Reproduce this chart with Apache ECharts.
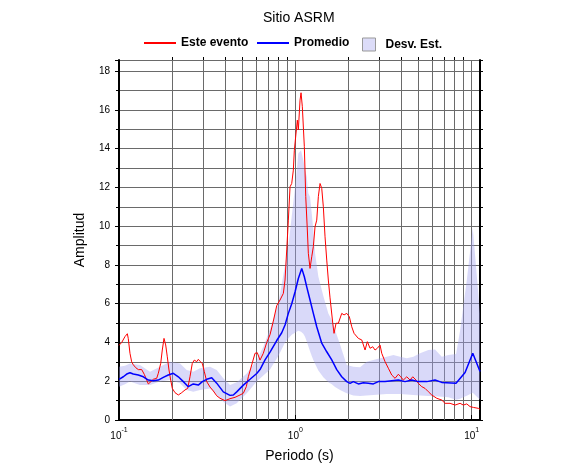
<!DOCTYPE html>
<html><head><meta charset="utf-8">
<script src="https://cdn.jsdelivr.net/npm/echarts@6/dist/echarts.min.js"></script>
<style>html,body{margin:0;padding:0;background:#fff}#c{width:586px;height:475px}</style>
</head><body><div id="c"></div>
<script>
const chartTitle = 'Sitio ASRM';
const legendNames = ['Este evento', 'Promedio', 'Desv. Est.'];
const xName = 'Periodo (s)';
const yName = 'Amplitud';
const xMin = 0.1, xMax = 11.15, yMin = 0, yMax = 18.57;
const minorPeriods = [0.2,0.3,0.4,0.5,0.6,0.7,0.8,0.9,2,3,4,5,6,7,8,9];

const redPeriod = [0.1,0.1013,0.1036,0.1058,0.1081,0.1115,0.1129,0.1154,0.118,0.1205,0.1244,0.1287,0.1315,0.1345,0.1392,0.1436,0.1466,0.1518,0.1565,0.1636,0.1671,0.1724,0.176,0.18,0.184,0.1879,0.1921,0.1964,0.2006,0.2078,0.217,0.2268,0.2368,0.2453,0.2527,0.2604,0.2673,0.2759,0.2817,0.2892,0.2969,0.3048,0.3145,0.3282,0.3426,0.3582,0.374,0.3992,0.4262,0.455,0.4857,0.5071,0.5274,0.5414,0.5657,0.5906,0.6087,0.6306,0.6583,0.6883,0.7186,0.7503,0.7844,0.8189,0.855,0.8742,0.8938,0.9128,0.9333,0.9541,0.9742,0.987,1.0052,1.0265,1.04,1.0633,1.0773,1.0958,1.1248,1.1455,1.1697,1.1851,1.2117,1.2389,1.2651,1.2935,1.3225,1.3505,1.3808,1.4118,1.4416,1.474,1.5071,1.5389,1.5734,1.6299,1.6578,1.7017,1.7536,1.8332,1.8891,1.9569,2.0244,2.0889,2.1527,2.2096,2.277,2.3803,2.4853,2.5611,2.653,2.7482,2.8318,2.9183,3.0229,3.0908,3.2268,3.369,3.522,3.6771,3.8391,3.9614,4.0983,4.2845,4.4734,4.6338,4.8375,4.985,5.2117,5.4411,5.6808,5.9388,6.3394,6.7665,7.0646,7.5413,8.05,8.593,8.972,9.38,9.7935,10.225,10.914,11.15];
const redAmp = [3.85,3.75,4.0,3.95,4.3,4.45,4.2,3.44,3.0,2.85,2.7,2.6,2.5,2.6,2.35,2.06,1.86,1.98,2.1,2.15,2.41,2.92,3.61,4.21,3.87,3.26,2.58,2.06,1.63,1.41,1.29,1.41,1.55,1.63,2.23,2.92,3.09,3.01,3.13,3.01,2.92,2.49,1.98,1.7,1.5,1.25,1.12,1.0,1.1,1.17,1.29,1.38,1.72,2.23,2.84,3.44,3.47,3.09,3.44,4.0,4.4,5.1,5.9,6.19,6.53,7.22,8.77,10.31,12.03,12.2,12.89,13.92,13.92,15.47,14.96,16.5,16.88,16.16,14.1,11.52,9.8,8.6,7.82,8.42,8.94,9.97,10.31,11.52,12.2,11.95,11.0,9.45,8.25,7.22,6.3,5.0,4.47,4.99,4.99,5.5,5.42,5.5,5.33,4.81,4.47,4.38,4.21,4.13,3.61,4.04,3.7,3.78,3.61,3.7,3.87,3.44,3.01,2.67,2.32,2.15,2.36,2.23,2.06,2.23,2.06,2.23,2.06,1.89,1.72,1.63,1.46,1.29,1.12,1.03,0.86,0.86,0.77,0.86,0.77,0.83,0.69,0.65,0.6,0.55];

const bluePeriod = [0.1,0.1058,0.1106,0.1154,0.1205,0.1287,0.1374,0.1466,0.1565,0.1671,0.1783,0.1904,0.2032,0.217,0.2316,0.2472,0.2638,0.2817,0.2969,0.3145,0.3356,0.3582,0.3904,0.4262,0.445,0.4652,0.5071,0.5535,0.6039,0.6306,0.6732,0.7186,0.7844,0.8373,0.8742,0.9128,0.9541,0.9961,1.04,1.0872,1.1248,1.1605,1.2117,1.2651,1.3225,1.4118,1.5071,1.6088,1.7173,1.8332,1.9569,2.0431,2.1331,2.277,2.43,2.5946,2.7699,2.9567,3.2268,3.522,3.8391,4.1903,4.5736,4.985,5.5634,6.2003,6.7665,8.156,9.174,10.145,11.15];
const blueAmp = [2.1,2.23,2.37,2.44,2.37,2.32,2.23,2.06,2.03,2.06,2.2,2.32,2.41,2.23,1.98,1.72,1.86,1.8,1.98,2.1,2.18,1.9,1.45,1.27,1.29,1.45,1.8,2.1,2.4,2.6,3.1,3.5,4.1,4.5,4.9,5.5,6.0,6.6,7.3,7.82,7.39,6.87,6.19,5.5,4.81,3.96,3.52,3.1,2.6,2.23,1.98,1.89,1.98,1.86,1.92,1.89,1.86,1.98,1.98,2.03,2.06,1.98,2.06,1.98,1.98,2.06,1.94,1.9,2.45,3.44,2.5];

const bandPeriod = [0.1,0.1081,0.1154,0.1315,0.1499,0.1708,0.1946,0.2218,0.2421,0.2638,0.288,0.3282,0.3582,0.3904,0.4262,0.4652,0.5302,0.6039,0.6583,0.7186,0.8009,0.8742,0.9128,0.9541,0.9961,1.04,1.0773,1.11,1.135,1.1605,1.1851,1.2117,1.2389,1.2651,1.2935,1.3505,1.4416,1.5389,1.6088,1.68,1.793,1.9569,2.1331,2.328,2.541,2.77,3.023,3.299,3.596,3.925,4.285,4.671,5.097,5.681,6.2,6.767,7.377,8.156,8.593,9.38,10.145,11.15];
const bandLow = [1.72,1.85,1.98,1.8,1.8,1.98,2.06,1.89,1.55,1.46,1.55,1.63,1.29,0.94,0.69,0.86,1.38,1.98,2.3,2.6,3.3,4.0,4.2,4.4,4.5,4.6,4.55,4.45,4.3,4.05,3.8,3.55,3.3,3.1,2.9,2.55,2.2,1.95,1.85,1.7,1.55,1.38,1.27,1.24,1.26,1.29,1.31,1.34,1.34,1.34,1.31,1.29,1.27,1.24,1.22,1.2,1.17,1.05,1.1,1.25,1.4,1.05];
const bandHigh = [2.75,2.8,2.92,2.84,2.49,2.75,3.01,2.92,2.58,2.49,2.67,2.75,2.58,2.15,1.8,1.95,2.4,3.09,3.78,4.7,6.0,8.0,9.0,10.5,12.0,13.75,13.92,13.4,12.9,12.55,11.7,11.5,10.66,9.8,8.6,7.4,6.4,5.5,5.16,4.64,3.9,2.84,2.75,2.72,3.01,3.09,3.18,3.26,3.35,3.26,3.18,3.26,3.44,3.61,3.64,3.26,3.35,3.4,4.6,7.2,9.9,5.5];

const FONT = "'Liberation Sans', Arial, Helvetica, sans-serif";
const GRID_COLOR = '#6a6a6a';
const BAND_FILL = 'rgba(160,160,240,0.4)';

const chart = echarts.init(document.getElementById('c'), null, {renderer: 'canvas'});

function crisp(v) { return Math.round(v - 0.5) + 0.5; }

const legendText = {fontFamily: FONT, fontSize: 12, fontWeight: 'bold', color: '#000'};

const option = {
  animation: false,
  backgroundColor: '#fff',
  title: {
    text: chartTitle, left: 263, top: 11, padding: 0,
    textStyle: {fontFamily: FONT, fontSize: 14, fontWeight: 'normal', color: '#000'}
  },
  legend: [
    {data: [legendNames[0]], left: 143, top: 37, padding: 0, itemWidth: 32, itemHeight: 14, itemGap: 0,
     itemStyle: {opacity: 0}, textStyle: legendText},
    {data: [legendNames[1]], left: 256, top: 37, padding: 0, itemWidth: 32, itemHeight: 14, itemGap: 0,
     itemStyle: {opacity: 0}, textStyle: legendText},
    {data: [{name: legendNames[2], icon: 'rect', itemStyle: {color: '#dcdcf8', borderColor: '#999', borderWidth: 1}}],
     left: 362, top: 37.5, padding: 0, itemWidth: 13, itemHeight: 13, itemGap: 0,
     textStyle: Object.assign({}, legendText, {padding: [0, 0, 0, 5]})}
  ],
  grid: {left: 119, right: 106, top: 60, bottom: 55, containLabel: false},
  xAxis: [
    {
      type: 'log', logBase: 10, min: xMin, max: xMax, position: 'bottom',
      name: xName, nameLocation: 'middle', nameGap: 29,
      nameTextStyle: {fontFamily: FONT, fontSize: 14, color: '#000'},
      axisLine: {show: true, lineStyle: {color: '#000', width: 2}},
      axisTick: {show: false},
      splitLine: {show: true, lineStyle: {color: GRID_COLOR, width: 1}},
      axisLabel: {
        margin: 7, showMaxLabel: false, color: '#000',
        formatter: function (v) {
          const l = Math.log10(v); const e = Math.round(l);
          if (Math.abs(l - e) > 0.01) return '';
          return '{b|10}{s|' + e + '}';
        },
        rich: {
          b: {fontFamily: FONT, fontSize: 10, color: '#000', verticalAlign: 'bottom', lineHeight: 14},
          s: {fontFamily: FONT, fontSize: 7, color: '#000', verticalAlign: 'top', lineHeight: 14}
        }
      }
    },
    {
      type: 'log', logBase: 10, min: xMin, max: xMax, position: 'top',
      axisLine: {show: true, lineStyle: {color: '#000', width: 2}},
      axisTick: {show: true, inside: false, length: 5, lineStyle: {color: '#000', width: 1}},
      axisLabel: {show: false}, splitLine: {show: false}
    }
  ],
  yAxis: [
    {
      type: 'value', min: yMin, max: yMax, interval: 2, position: 'left',
      name: yName, nameLocation: 'middle', nameGap: 32, nameRotate: 90,
      nameTextStyle: {fontFamily: FONT, fontSize: 14, color: '#000'},
      axisLine: {show: true, lineStyle: {color: '#000', width: 2}},
      axisTick: {show: true, inside: false, length: 4, lineStyle: {color: '#000', width: 1}},
      minorTick: {show: true, splitNumber: 2, length: 3, lineStyle: {color: '#000', width: 1}},
      splitLine: {show: true, lineStyle: {color: GRID_COLOR, width: 1}},
      minorSplitLine: {show: true, lineStyle: {color: GRID_COLOR, width: 1}},
      axisLabel: {margin: 9, showMaxLabel: false, color: '#000', fontFamily: FONT, fontSize: 10}
    },
    {
      type: 'value', min: yMin, max: yMax, interval: 1, position: 'right',
      axisLine: {show: true, lineStyle: {color: '#000', width: 2}},
      axisTick: {show: true, inside: false, length: 3, lineStyle: {color: '#000', width: 1}},
      axisLabel: {show: false}, splitLine: {show: false}
    }
  ],
  series: [
    {
      type: 'custom', name: 'minorGrid', silent: true, xAxisIndex: 0, yAxisIndex: 0,
      data: minorPeriods.map(p => [p, yMin]),
      encode: {x: 0, y: 1},
      renderItem: function (params, api) {
        const p = api.value(0);
        const a = api.coord([p, yMin]);
        const b = api.coord([p, yMax]);
        const x = crisp(a[0]);
        return {type: 'group', children: [
          {type: 'line', shape: {x1: x, y1: a[1], x2: x, y2: b[1]}, style: {stroke: GRID_COLOR, lineWidth: 1}},
          {type: 'line', shape: {x1: x, y1: b[1], x2: x, y2: b[1] - 3}, style: {stroke: '#000', lineWidth: 1}}
        ]};
      }
    },
    {
      type: 'custom', name: legendNames[2], silent: true, xAxisIndex: 0, yAxisIndex: 0,
      itemStyle: {color: '#dcdcf8', borderColor: '#999'},
      data: bandPeriod.map((p, i) => [p, bandLow[i], bandHigh[i]]),
      encode: {x: 0, y: [1, 2]},
      renderItem: function (params, api) {
        if (params.dataIndex !== 0) return null;
        const pts = [];
        for (let i = 0; i < bandPeriod.length; i++) pts.push(api.coord([bandPeriod[i], bandHigh[i]]));
        for (let i = bandPeriod.length - 1; i >= 0; i--) pts.push(api.coord([bandPeriod[i], bandLow[i]]));
        return {type: 'polygon', shape: {points: pts}, style: {fill: BAND_FILL, stroke: null}};
      }
    },
    {
      type: 'line', name: legendNames[0], xAxisIndex: 0, yAxisIndex: 0,
      data: redPeriod.map((p, i) => [p, redAmp[i]]),
      showSymbol: false, symbol: 'none', smooth: false,
      lineStyle: {color: '#ff0000', width: 1}, itemStyle: {color: '#ff0000'}
    },
    {
      type: 'line', name: legendNames[1], xAxisIndex: 0, yAxisIndex: 0,
      data: bluePeriod.map((p, i) => [p, blueAmp[i]]),
      showSymbol: false, symbol: 'none', smooth: false,
      lineStyle: {color: '#0000ff', width: 1.5}, itemStyle: {color: '#0000ff'}
    }
  ]
};
chart.setOption(option);
</script>
</body></html>
